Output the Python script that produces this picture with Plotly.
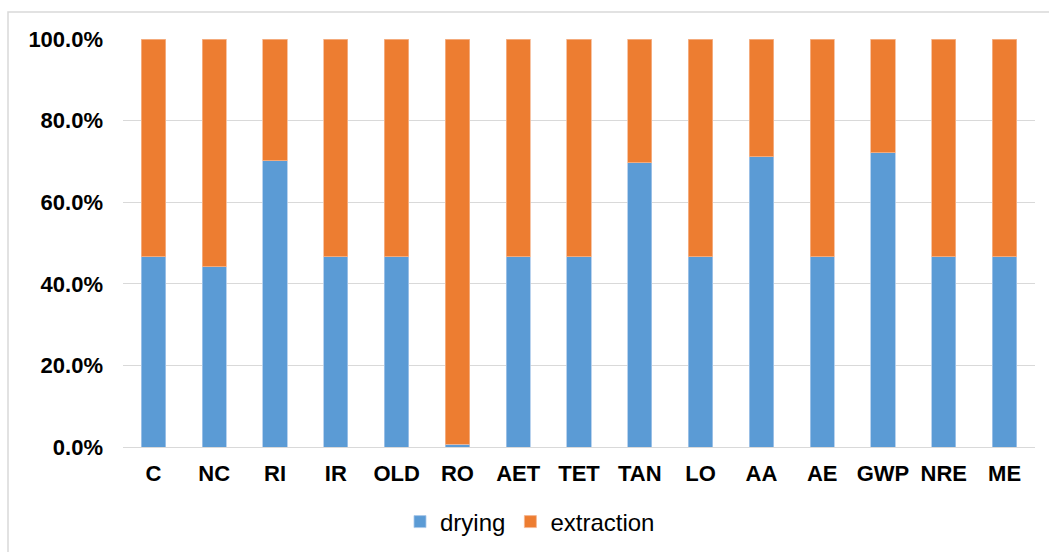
import plotly.graph_objects as go

categories = ["C", "NC", "RI", "IR", "OLD", "RO", "AET", "TET", "TAN", "LO", "AA", "AE", "GWP", "NRE", "ME"]
drying = [0.466, 0.442, 0.702, 0.466, 0.466, 0.007, 0.466, 0.466, 0.697, 0.466, 0.711, 0.466, 0.721, 0.466, 0.466]
extraction = [1 - v for v in drying]
y_ticks = [0, 0.2, 0.4, 0.6, 0.8, 1.0]
y_tick_labels = ["0.0%", "20.0%", "40.0%", "60.0%", "80.0%", "100.0%"]

BLUE = "#5B9BD5"
ORANGE = "#ED7D31"
FONT = "Liberation Sans"

fig = go.Figure()
fig.add_trace(go.Bar(name="drying", x=categories, y=drying, marker=dict(color=BLUE, line=dict(width=0.8, color="#a9c8ea"))))
fig.add_trace(go.Bar(name="extraction", x=categories, y=extraction, marker=dict(color=ORANGE, line=dict(width=0.8, color="#f5b690"))))

W, H = 1049, 552
ml, mr, mt, mb = 123, 14, 39, 105
pw = W - ml - mr
ph = H - mt - mb

fig.update_layout(
    barmode="stack",
    bargap=0.6,
    width=W, height=H,
    margin=dict(l=ml, r=mr, t=mt, b=mb, autoexpand=False),
    paper_bgcolor="white",
    plot_bgcolor="white",
    font=dict(family=FONT, color="#000000"),
    showlegend=True,
    legend=dict(
        orientation="h",
        traceorder="normal",
        x=(400 - ml) / pw, xanchor="left",
        y=(H - mb - 522) / ph, yanchor="middle",
        font=dict(family=FONT, size=24, color="#000000"),
        itemwidth=30,
        tracegroupgap=0,
    ),
    xaxis=dict(
        type="category",
        automargin=False,
        showgrid=False,
        showline=False,
        ticks="",
        tickfont=dict(family=FONT, size=22, color="#000000", weight="bold"),
        ticklabelstandoff=11,
    ),
    yaxis=dict(
        range=[0, 1],
        automargin=False,
        tickvals=y_ticks,
        ticktext=y_tick_labels,
        showgrid=True,
        gridcolor="#d9d9d9",
        gridwidth=1.3,
        zeroline=True,
        zerolinecolor="#d9d9d9",
        zerolinewidth=1.3,
        showline=False,
        ticks="",
        tickfont=dict(family=FONT, size=22, color="#000000", weight="bold"),
        ticklabelstandoff=19,
    ),
    shapes=[
        dict(type="rect", xref="paper", yref="paper",
             x0=(8 - ml) / pw, x1=(W + 20 - ml) / pw,
             y0=(H - mb - (H + 20)) / ph, y1=(H - mb - 12) / ph,
             line=dict(color="#d9d9d9", width=1.5), fillcolor="rgba(0,0,0,0)", layer="below"),
    ],
)

fig.write_html("out.html")
